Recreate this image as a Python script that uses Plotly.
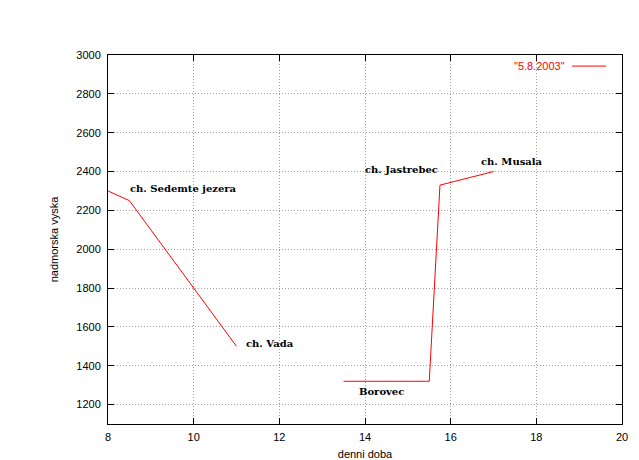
import plotly.graph_objects as go

# Data
time = [8.0, 8.5, 11.0, None, 13.5, 15.5, 15.75, 17.0]
altitude = [2300, 2250, 1500, None, 1320, 1320, 2330, 2400]
series_name = '"5.8.2003"'

label_text = ["ch. Sedemte jezera", "ch. Vada", "ch. Jastrebec", "ch. Musala", "Borovec"]
label_x = [8.47, 11.18, 13.96, 16.67, 13.82]
label_y = [2313, 1513, 2410, 2451, 1267]

x_ticks = [8, 10, 12, 14, 16, 18, 20]
y_ticks = [1200, 1400, 1600, 1800, 2000, 2200, 2400, 2600, 2800, 3000]

RED = "#ff0000"

fig = go.Figure()
fig.add_trace(go.Scatter(x=time, y=altitude, mode="lines", name=series_name,
                         line=dict(color=RED, width=1), connectgaps=False,
                         showlegend=False))

for t, x, y in zip(label_text, label_x, label_y):
    fig.add_annotation(x=x, y=y, text="<b>%s</b>" % t, showarrow=False,
                       xanchor="left", yanchor="middle",
                       font=dict(family="DejaVu Serif", size=10, color="black"))

# legend (gnuplot style: text then sample line)
fig.add_annotation(xref="paper", yref="paper", x=0.893, y=0.97, text=series_name,
                   showarrow=False, xanchor="right", yanchor="middle",
                   font=dict(family="Liberation Sans", size=11, color=RED))
fig.add_shape(type="line", xref="paper", yref="paper", x0=0.903, x1=0.969, y0=0.97, y1=0.97,
              line=dict(color=RED, width=1))

axis_common = dict(showline=True, linecolor="black", linewidth=1, mirror="ticks",
                   ticks="inside", ticklen=6, tickcolor="black",
                   showgrid=True, gridcolor="#a0a0a0", griddash="1px,2px", gridwidth=1,
                   zeroline=False, automargin=False,
                   tickfont=dict(family="Liberation Sans", size=11, color="black"),
                   title_font=dict(family="Liberation Sans", size=11, color="black"))

fig.update_xaxes(range=[8, 20], tickvals=x_ticks, title_text="denni doba",
                 ticklabelstandoff=3, title_standoff=9, **axis_common)
fig.update_yaxes(range=[1100, 3000], tickvals=y_ticks, title_text="nadmorska vyska",
                 ticklabelstandoff=4, title_standoff=15, **axis_common)

# page body has an 8px margin; figure sized so the plot box sits where the reference has it
fig.update_layout(width=631, height=452, paper_bgcolor="white", plot_bgcolor="white",
                  margin=dict(l=100, r=17, t=47, b=36), showlegend=False)

fig.write_html("out.html")
